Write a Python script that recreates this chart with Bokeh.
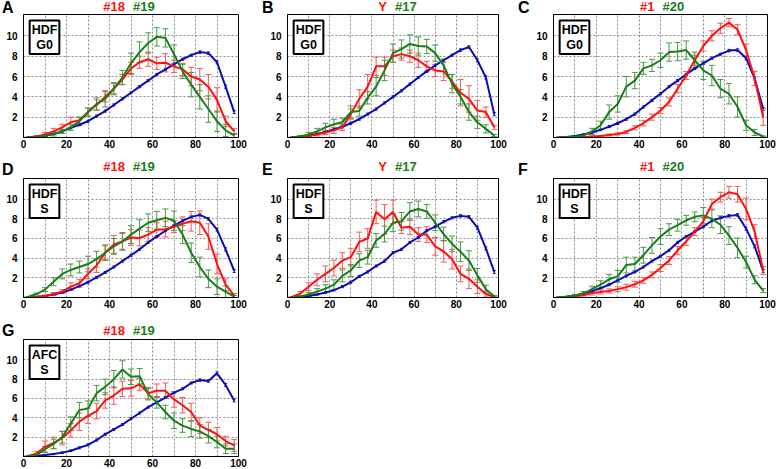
from bokeh.plotting import figure
from bokeh.models import Label, Whisker, TeeHead, ColumnDataSource, FixedTicker, Range1d, Div
from bokeh.layouts import column, row
from bokeh.embed import file_html
from bokeh.resources import INLINE

# ---------------- data ----------------
x_pos = [2, 6, 10, 14, 18, 22, 26, 30, 34, 38, 42, 46, 50, 54, 58, 62, 66, 70, 74, 78, 82, 86, 90, 94, 98]
x_ticks = [0, 20, 40, 60, 80, 100]
y_ticks = [2, 4, 6, 8, 10]
blue_err = [0.02, 0.03, 0.05, 0.06, 0.08, 0.08, 0.1, 0.1, 0.1, 0.1, 0.1, 0.1, 0.1, 0.1, 0.1,
            0.1, 0.1, 0.1, 0.1, 0.1, 0.12, 0.12, 0.15, 0.15, 0.15]

a_red = [0.0, 0.1, 0.3, 0.6, 1.0, 1.5, 1.7, 2.5, 3.2, 4.0, 4.8, 5.7, 6.8, 7.4, 7.7, 7.3, 7.35, 7.0, 6.7, 6.0, 5.7, 5.0, 3.7, 1.6, 0.6]
a_red_err = [0.05, 0.1, 0.2, 0.3, 0.3, 0.5, 0.3, 0.4, 0.5, 0.5, 0.5, 0.5, 0.6, 0.6, 0.7, 0.6, 0.9, 0.6, 0.6, 0.9, 1.1, 1.2, 1.2, 0.5, 0.3]
a_green = [0.0, 0.05, 0.2, 0.35, 0.6, 1.0, 1.6, 2.5, 3.3, 3.8, 4.8, 5.9, 7.3, 8.4, 9.3, 9.9, 9.8, 8.2, 6.5, 5.2, 4.0, 2.8, 1.6, 0.7, 0.2]
a_green_err = [0.02, 0.05, 0.1, 0.2, 0.2, 0.3, 0.4, 0.4, 0.6, 0.8, 0.6, 0.7, 1.0, 1.0, 1.0, 0.9, 0.9, 0.9, 0.7, 1.2, 1.2, 1.3, 1.0, 0.6, 0.2]
a_blue = [0.02, 0.08, 0.2, 0.35, 0.6, 0.95, 1.25, 1.6, 2.1, 2.6, 3.2, 3.8, 4.4, 5.0, 5.6, 6.2, 6.7, 7.2, 7.7, 8.1, 8.4, 8.3, 7.4, 5.0, 2.5]

b_red = [0.0, 0.05, 0.15, 0.3, 0.5, 0.7, 1.0, 2.3, 3.8, 5.0, 7.0, 7.0, 8.0, 8.2, 8.0, 7.6, 7.0, 6.6, 6.5, 5.5, 4.4, 3.8, 2.65, 2.5, 1.0]
b_red_err = [0.02, 0.05, 0.1, 0.15, 0.2, 0.3, 0.3, 0.5, 0.9, 1.2, 0.9, 0.9, 0.6, 0.6, 0.6, 0.7, 0.5, 0.6, 0.9, 0.7, 1.3, 1.3, 1.0, 0.5, 0.2]
b_green = [0.0, 0.1, 0.3, 0.6, 1.0, 1.3, 1.5, 2.5, 2.6, 3.9, 5.0, 6.6, 8.3, 8.7, 9.2, 9.0, 8.95, 8.3, 7.1, 5.3, 4.0, 2.5, 1.5, 0.85, 0.2]
b_green_err = [0.02, 0.1, 0.2, 0.3, 0.4, 0.5, 0.4, 0.6, 0.5, 0.6, 0.9, 1.0, 0.9, 0.9, 0.9, 0.9, 0.7, 0.8, 0.6, 0.9, 0.7, 0.8, 0.6, 0.4, 0.1]
b_blue = [0.02, 0.08, 0.2, 0.35, 0.55, 0.8, 1.05, 1.4, 1.8, 2.3, 2.8, 3.4, 4.0, 4.6, 5.25, 5.9, 6.5, 7.1, 7.6, 8.1, 8.6, 8.9, 7.6, 5.9, 2.3]

c_red = [0.0, 0.01, 0.03, 0.05, 0.1, 0.15, 0.25, 0.35, 0.55, 0.95, 1.4, 2.0, 2.65, 3.5, 4.8, 6.1, 7.6, 9.0, 10.0, 10.75, 11.3, 10.6, 8.6, 5.8, 2.0]
c_red_err = [0.01, 0.01, 0.02, 0.03, 0.05, 0.05, 0.1, 0.1, 0.15, 0.2, 0.25, 0.3, 0.3, 0.4, 0.4, 0.4, 0.5, 0.5, 0.5, 0.5, 0.4, 0.5, 0.6, 0.7, 0.8]
c_green = [0.0, 0.02, 0.08, 0.2, 0.6, 1.2, 2.5, 3.3, 5.0, 5.6, 6.8, 7.1, 7.6, 8.4, 8.45, 8.6, 7.6, 6.6, 6.1, 4.8, 4.3, 3.0, 1.2, 0.5, 0.1]
c_green_err = [0.01, 0.02, 0.05, 0.1, 0.3, 0.4, 0.7, 0.8, 1.0, 0.8, 0.6, 0.6, 0.7, 0.9, 0.9, 0.9, 0.8, 0.9, 1.0, 0.9, 1.0, 1.0, 0.5, 0.3, 0.05]
c_blue = [0.01, 0.05, 0.15, 0.3, 0.5, 0.75, 1.07, 1.4, 1.8, 2.3, 3.0, 3.65, 4.3, 5.0, 5.6, 6.2, 6.8, 7.3, 7.8, 8.2, 8.55, 8.6, 7.8, 5.8, 2.8]

d_red = [0.0, 0.05, 0.15, 0.35, 0.6, 1.1, 1.45, 2.4, 3.25, 4.55, 5.4, 5.7, 6.1, 6.05, 6.4, 6.9, 6.95, 7.2, 7.5, 7.75, 7.6, 6.2, 3.4, 1.3, 0.2]
d_red_err = [0.02, 0.05, 0.1, 0.15, 0.2, 0.4, 0.4, 0.5, 0.7, 0.7, 0.9, 0.8, 0.8, 0.8, 0.7, 0.7, 0.8, 0.6, 0.7, 1.0, 1.2, 1.3, 1.0, 0.6, 0.2]
d_green = [0.05, 0.35, 0.8, 1.6, 2.4, 2.8, 3.1, 3.4, 3.9, 4.55, 5.2, 5.7, 6.4, 7.0, 7.6, 7.85, 8.1, 7.8, 6.4, 4.55, 3.1, 1.9, 1.1, 0.6, 0.1]
d_green_err = [0.03, 0.1, 0.2, 0.4, 0.5, 0.6, 0.6, 0.8, 0.8, 0.8, 0.8, 0.9, 0.9, 0.9, 0.9, 0.9, 0.9, 1.0, 0.9, 1.0, 1.0, 0.9, 0.8, 0.6, 0.1]
d_blue = [0.02, 0.05, 0.15, 0.3, 0.5, 0.8, 1.15, 1.55, 2.05, 2.55, 3.1, 3.7, 4.3, 4.9, 5.6, 6.2, 6.8, 7.3, 7.8, 8.2, 8.4, 8.0, 6.9, 4.9, 2.7]

e_red = [0.05, 0.4, 1.1, 1.8, 2.4, 3.0, 3.75, 4.1, 5.65, 6.0, 8.7, 7.95, 8.7, 7.1, 7.2, 6.4, 6.4, 5.2, 4.7, 3.9, 2.4, 1.9, 1.1, 0.35, 0.05]
e_red_err = [0.03, 0.2, 0.4, 0.6, 0.8, 0.8, 0.8, 0.9, 1.0, 1.0, 1.2, 1.5, 1.2, 0.6, 0.8, 0.7, 0.8, 0.9, 1.1, 1.0, 0.8, 1.0, 0.7, 0.3, 0.05]
e_green = [0.02, 0.1, 0.3, 0.6, 0.9, 1.3, 2.2, 2.75, 3.75, 4.1, 5.8, 6.45, 7.6, 7.75, 8.75, 9.0, 8.75, 7.6, 6.45, 5.45, 4.65, 3.75, 2.25, 0.85, 0.1]
e_green_err = [0.01, 0.05, 0.2, 0.3, 0.4, 0.5, 0.6, 0.6, 0.7, 0.7, 0.7, 0.8, 0.9, 0.9, 0.9, 0.8, 0.7, 0.8, 0.7, 0.8, 1.0, 1.0, 0.7, 0.4, 0.1]
e_blue = [0.02, 0.07, 0.15, 0.3, 0.5, 0.75, 1.1, 1.55, 2.15, 2.6, 3.2, 3.7, 4.55, 4.9, 5.6, 6.1, 6.8, 7.2, 7.7, 8.1, 8.3, 8.2, 7.1, 5.0, 2.6]

f_red = [0.0, 0.02, 0.1, 0.25, 0.45, 0.55, 0.67, 0.85, 1.05, 1.35, 1.75, 2.3, 3.0, 3.75, 4.8, 5.7, 6.7, 7.75, 9.5, 10.2, 10.7, 10.5, 9.0, 6.7, 2.75]
f_red_err = [0.01, 0.02, 0.05, 0.1, 0.2, 0.2, 0.2, 0.25, 0.3, 0.3, 0.3, 0.3, 0.35, 0.4, 0.4, 0.4, 0.4, 0.4, 0.5, 0.5, 0.6, 0.8, 1.1, 0.7, 0.4]
f_green = [0.02, 0.08, 0.2, 0.4, 0.85, 1.3, 1.85, 2.15, 3.3, 3.4, 4.3, 5.3, 6.2, 6.9, 7.35, 7.85, 8.2, 8.35, 8.0, 7.4, 6.3, 5.05, 3.6, 1.8, 0.7]
f_green_err = [0.01, 0.04, 0.1, 0.2, 0.3, 0.4, 0.5, 0.6, 0.8, 0.7, 0.8, 0.8, 0.8, 0.6, 0.6, 0.5, 0.5, 0.8, 0.9, 0.9, 0.9, 1.0, 0.6, 0.4, 0.2]
f_blue = [0.02, 0.08, 0.2, 0.4, 0.65, 0.95, 1.3, 1.75, 2.2, 2.6, 3.1, 3.7, 4.2, 4.8, 5.6, 6.2, 6.7, 7.2, 7.8, 8.1, 8.3, 8.4, 7.0, 5.2, 2.7]

g_red = [0.05, 0.3, 1.0, 1.4, 1.9, 2.7, 3.6, 4.2, 4.7, 5.8, 6.3, 7.0, 7.05, 7.45, 6.55, 6.8, 6.8, 5.9, 5.3, 4.6, 3.2, 2.75, 2.3, 1.6, 1.15]
g_red_err = [0.05, 0.2, 0.6, 0.6, 0.7, 0.7, 0.9, 0.8, 0.8, 0.8, 0.9, 0.8, 0.8, 0.6, 0.6, 0.7, 0.8, 0.8, 0.8, 0.9, 0.8, 0.8, 0.7, 0.5, 0.6]
g_green = [0.02, 0.15, 0.75, 1.3, 2.0, 3.4, 4.8, 4.95, 6.55, 7.2, 8.0, 9.0, 8.25, 8.3, 6.45, 5.6, 4.6, 3.7, 3.2, 2.85, 2.6, 2.1, 1.5, 0.8, 0.8]
g_green_err = [0.02, 0.1, 0.3, 0.5, 0.6, 0.7, 0.8, 0.8, 0.8, 0.8, 0.9, 0.9, 0.8, 0.8, 0.6, 0.6, 0.7, 0.8, 0.7, 0.8, 0.7, 0.7, 0.6, 0.5, 0.5]
g_blue = [0.02, 0.05, 0.15, 0.25, 0.4, 0.6, 0.9, 1.2, 1.7, 2.3, 2.8, 3.3, 3.9, 4.5, 5.1, 5.6, 6.1, 6.6, 7.0, 7.6, 7.9, 7.8, 8.6, 7.4, 5.8]

# ---------------- style ----------------
FONT = "Liberation Sans"
RED = "#ff1010"
RED_ERR = "#ff5555"
GREEN = "#1a7d1a"
GREEN_ERR = "#479a47"
BLUE = "#0c0cb4"
YMAX = 12.1

COLS = [dict(W=260, bl=23, br=22, letter_x=2),
        dict(W=255, bl=27, br=17, letter_x=2),
        dict(W=262, bl=38, br=10, letter_x=3)]
ROWS = [dict(dh=13, H=147, bt=1, bb=23, letter_b=-0.8, title_b=0.8),
        dict(dh=17, H=145, bt=1, bb=25, letter_b=0.8, title_b=4.7),
        dict(dh=16, H=131, bt=1, bb=13, letter_b=1.3, title_b=2.5)]


def add_series(p, y, err, color, err_color, lw, head):
    lo = [v - e for v, e in zip(y, err)]
    hi = [v + e for v, e in zip(y, err)]
    src = ColumnDataSource(dict(x=x_pos, y=y, lo=lo, hi=hi))
    w = Whisker(source=src, base="x", upper="hi", lower="lo",
                line_color=err_color, line_width=1,
                upper_head=TeeHead(size=head, line_color=err_color, line_width=1),
                lower_head=TeeHead(size=head, line_color=err_color, line_width=1))
    p.add_layout(w)
    p.line("x", "y", source=src, line_color=color, line_width=lw)


def header(letter, names, col, rw):
    c, r = COLS[col], ROWS[rw]
    W, h = c["W"], r["dh"]
    center = c["bl"] + (W - c["bl"] - c["br"]) / 2.0
    base = ("position:absolute;white-space:nowrap;"
            "font-family:'Liberation Sans',Arial,sans-serif;font-weight:bold;")
    html = (
        f'<div style="position:relative;width:{W}px;height:{h}px;overflow:visible;">'
        f'<span style="{base}left:{c["letter_x"]}px;bottom:{r["letter_b"]}px;'
        f'font-size:16px;line-height:12px;color:black;">{letter}</span>'
        f'<span style="{base}right:{W - center + 5.5:.1f}px;bottom:{r["title_b"]}px;'
        f'font-size:13px;line-height:10px;color:{RED};">{names[0]}</span>'
        f'<span style="{base}left:{center + 2.5:.1f}px;bottom:{r["title_b"]}px;'
        f'font-size:13px;line-height:10px;color:{GREEN};">{names[1]}</span>'
        '</div>'
    )
    return Div(text=html, width=W, height=h, margin=(0, 0, 0, 0))


def make_panel(letter, names, box, red, red_err, green, green_err, blue, col, rw):
    c, r = COLS[col], ROWS[rw]
    p = figure(width=c["W"], height=r["H"], x_range=Range1d(0, 100), y_range=Range1d(0, YMAX),
               output_backend="svg", toolbar_location=None,
               min_border_left=c["bl"], min_border_right=c["br"],
               min_border_top=r["bt"], min_border_bottom=r["bb"], margin=(0, 0, 0, 0))
    p.outline_line_color = "black"
    p.outline_line_width = 1
    p.background_fill_color = "white"
    p.border_fill_color = "white"
    p.xaxis.ticker = FixedTicker(ticks=x_ticks)
    p.yaxis.ticker = FixedTicker(ticks=y_ticks)
    p.xgrid.ticker = FixedTicker(ticks=list(range(10, 100, 10)))
    p.ygrid.ticker = FixedTicker(ticks=y_ticks)
    for g in (p.xgrid[0], p.ygrid[0]):
        g.grid_line_color = "#8a8a8a"
        g.grid_line_dash = "2 2"
        g.grid_line_width = 1
    for ax in (p.xaxis[0], p.yaxis[0]):
        ax.axis_line_color = "black"
        ax.major_tick_out = 0
        ax.major_tick_in = 0
        ax.minor_tick_out = 0
        ax.minor_tick_in = 0
        ax.major_label_text_font = FONT
        ax.major_label_text_font_style = "bold"
        ax.major_label_text_font_size = "10px"
        ax.major_label_text_color = "black"
    p.xaxis[0].major_label_standoff = 2
    p.yaxis[0].major_label_standoff = 6

    add_series(p, blue, blue_err, BLUE, BLUE, 2, 3)
    add_series(p, red, red_err, RED, RED_ERR, 2, 6)
    add_series(p, green, green_err, GREEN, GREEN_ERR, 2, 6)

    p.add_layout(Label(x=0, y=YMAX, x_offset=21, y_offset=-6, text=box,
                       text_align="center", text_baseline="top",
                       text_font=FONT, text_font_style="bold", text_font_size="12.5px",
                       text_color="black", text_line_height=1.1,
                       border_line_color="black", border_line_width=2,
                       background_fill_color="white", padding=2))
    return column(header(letter, names, col, rw), p, spacing=0)


pa = make_panel("A", ("#18", "#19"), "HDF\nG0", a_red, a_red_err, a_green, a_green_err, a_blue, 0, 0)
pb = make_panel("B", ("Y", "#17"), "HDF\nG0", b_red, b_red_err, b_green, b_green_err, b_blue, 1, 0)
pc = make_panel("C", ("#1", "#20"), "HDF\nG0", c_red, c_red_err, c_green, c_green_err, c_blue, 2, 0)
pd = make_panel("D", ("#18", "#19"), "HDF\nS", d_red, d_red_err, d_green, d_green_err, d_blue, 0, 1)
pe = make_panel("E", ("Y", "#17"), "HDF\nS", e_red, e_red_err, e_green, e_green_err, e_blue, 1, 1)
pf = make_panel("F", ("#1", "#20"), "HDF\nS", f_red, f_red_err, f_green, f_green_err, f_blue, 2, 1)
pg = make_panel("G", ("#18", "#19"), "AFC\nS", g_red, g_red_err, g_green, g_green_err, g_blue, 0, 2)

layout = column(row(pa, pb, pc, spacing=0), row(pd, pe, pf, spacing=0), row(pg, spacing=0), spacing=0)

open("out.html", "w").write(file_html(layout, INLINE))
